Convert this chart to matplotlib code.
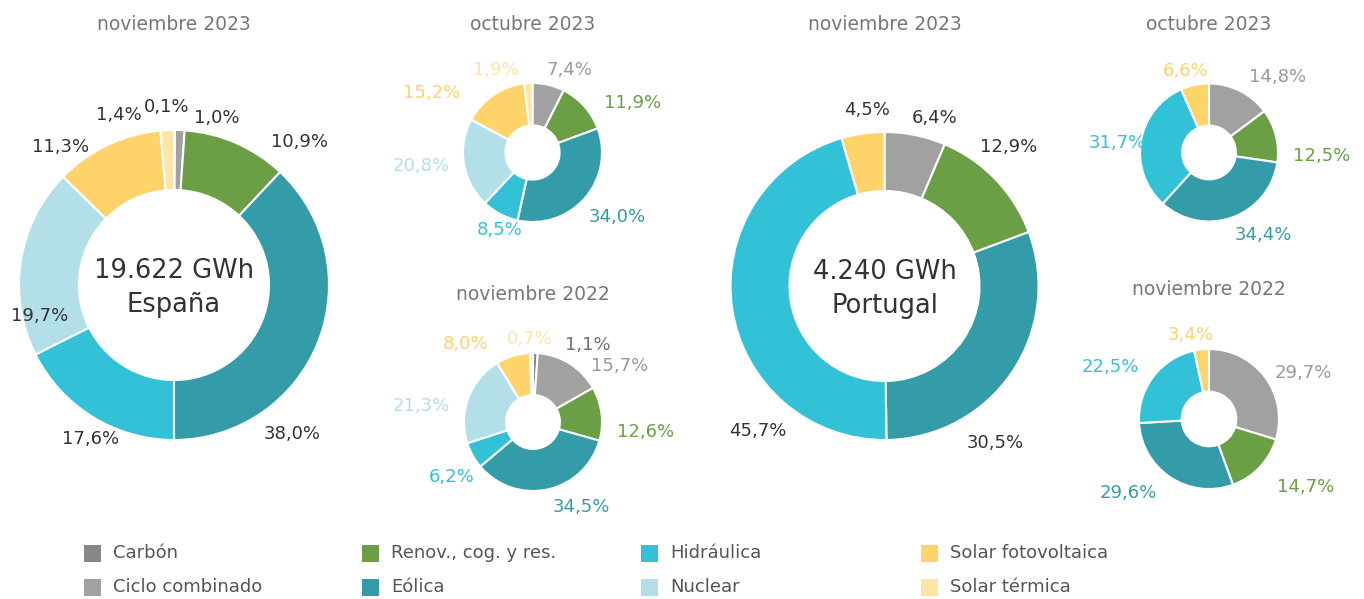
import matplotlib
matplotlib.use("Agg")
import matplotlib.pyplot as plt
from matplotlib.patches import Rectangle
import numpy as np

# --- datos (% de generación por tecnología) ---
categorias = ["Carbón", "Ciclo combinado", "Renov., cog. y res.", "Eólica",
              "Hidráulica", "Nuclear", "Solar fotovoltaica", "Solar térmica"]

es_nov23 = [0.1, 1.0, 10.9, 38.0, 17.6, 19.7, 11.3, 1.4]
es_oct23 = [0.0, 7.4, 11.9, 34.0, 8.5, 20.8, 15.2, 1.9]
es_nov22 = [1.1, 15.7, 12.6, 34.5, 6.2, 21.3, 8.0, 0.7]
pt_nov23 = [0.0, 6.4, 12.9, 30.5, 45.7, 0.0, 4.5, 0.0]
pt_oct23 = [0.0, 14.8, 12.5, 34.4, 31.7, 0.0, 6.6, 0.0]
pt_nov22 = [0.0, 29.7, 14.7, 29.6, 22.5, 0.0, 3.4, 0.0]

total_es = "19.622 GWh"
total_pt = "4.240 GWh"

# --- estilo ---
colores = ["#878787", "#a1a1a1", "#6a9f45", "#339ca8",
           "#33c1d8", "#b3dfe9", "#fdd36a", "#fde4a7"]
col_etiq = ["#707070", "#9a9a9a", "#6a9f45", "#339ca8",
            "#33c1d8", "#b3dfe9", "#fdd36a", "#fde4a7"]

W, H = 1364, 599
fig = plt.figure(figsize=(W / 100, H / 100), dpi=100)
fig.patch.set_facecolor("white")

# posición de etiquetas: (ángulo horario desde arriba, radio relativo)
pos_es_nov23 = [(357.7, 1.15), (14.4, 1.11), (41.2, 1.23), (141.6, 1.23),
                (208.3, 1.13), (256.9, 0.89), (320.5, 1.15), (342, 1.15)]
pos_es_oct23 = [(24.4, 1.30), (63.8, 1.61), (127.4, 1.53), (202.8, 1.21),
                (263, 1.61), (300.6, 1.68), (336, 1.30)]
pos_es_nov22 = [(35.5, 1.37), (56.9, 1.49), (95, 1.64), (150.5, 1.41),
                (235.8, 1.42), (278, 1.64), (319.3, 1.49), (358, 1.20)]
pos_pt_nov23 = [(16.6, 1.14), (41.8, 1.21), (144.9, 1.25), (221.3, 1.25),
                (354.4, 1.15)]
pos_pt_oct23 = [(42.4, 1.48), (91.8, 1.64), (146.8, 1.43), (276, 1.33),
                (344, 1.23)]
pos_pt_nov22 = [(63.9, 1.50), (125, 1.69), (227.6, 1.57), (297.7, 1.60),
                (348, 1.23)]


def fmt(v):
    return f"{v:.1f}".replace(".", ",") + "%"


def donut(cx, cy, R, valores, hueco, posiciones, titulo, ty,
          grande=False, centro=None):
    L = 2.0
    ax = fig.add_axes([(cx - R * L) / W, (H - cy - R * L) / H,
                       2 * R * L / W, 2 * R * L / H])
    idx = [i for i, v in enumerate(valores) if v > 0]
    vals = [valores[i] for i in idx]
    ax.pie(vals, colors=[colores[i] for i in idx], startangle=90,
           counterclock=False, radius=1,
           wedgeprops=dict(width=1 - hueco, edgecolor="white", linewidth=1.5))
    ax.set_xlim(-L, L)
    ax.set_ylim(-L, L)
    ax.axis("off")
    for k, i in enumerate(idx):
        ang, r = posiciones[k]
        t = np.deg2rad(ang)
        c = "#333333" if grande else col_etiq[i]
        ax.text(r * np.sin(t), r * np.cos(t), fmt(valores[i]), ha="center",
                va="center", fontsize=13, color=c)
    fig.text(cx / W, 1 - ty / H, titulo, ha="center", va="center",
             fontsize=13.5, color="#777777")
    if centro:
        ax.text(0, 7.5 / R, centro[0], ha="center", va="baseline",
                fontsize=18.5, color="#333333")
        ax.text(0, -27 / R, centro[1], ha="center", va="baseline",
                fontsize=18.5, color="#333333")


donut(174, 285, 155, es_nov23, 0.613, pos_es_nov23, "noviembre 2023", 24,
      grande=True, centro=(total_es, "España"))
donut(532.5, 152.5, 69.5, es_oct23, 0.39, pos_es_oct23, "octubre 2023", 24)
donut(533, 422, 69, es_nov22, 0.39, pos_es_nov22, "noviembre 2022", 294)
donut(884.5, 286, 154, pt_nov23, 0.617, pos_pt_nov23, "noviembre 2023", 24,
      grande=True, centro=(total_pt, "Portugal"))
donut(1209, 152.5, 69, pt_oct23, 0.39, pos_pt_oct23, "octubre 2023", 24)
donut(1209, 419, 70, pt_nov22, 0.39, pos_pt_nov22, "noviembre 2022", 289)

# --- leyenda ---
col_x = [84, 362, 641, 921]
fila_y = [553, 587]
lado = 17
for i, nombre in enumerate(categorias):
    x = col_x[i // 2]
    y = fila_y[i % 2]
    fig.add_artist(Rectangle((x / W, 1 - (y + lado / 2) / H), lado / W, lado / H,
                             transform=fig.transFigure, facecolor=colores[i],
                             edgecolor="none"))
    fig.text((x + 29) / W, 1 - y / H, nombre, ha="left", va="center",
             fontsize=13, color="#555555")

fig.savefig("out.png", dpi=100, facecolor="white")
